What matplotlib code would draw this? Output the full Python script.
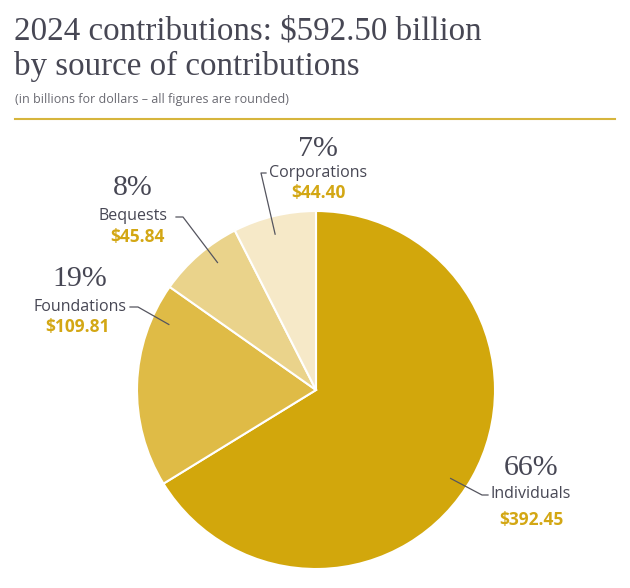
import matplotlib.pyplot as plt
import numpy as np

W, H = 630, 588

sources = ["Individuals", "Foundations", "Bequests", "Corporations"]
amounts = [392.45, 109.81, 45.84, 44.40]
pct_labels = ["66%", "19%", "8%", "7%"]
value_labels = ["$392.45", "$109.81", "$45.84", "$44.40"]
colors = ["#D2A70C", "#DFBB46", "#EAD38B", "#F6E9C8"]

DARK = "#474754"
GOLD = "#D3A714"
SERIF = ["Liberation Serif", "DejaVu Serif"]
SANS = ["Open Sans", "DejaVu Sans"]

# label layout in pixels: (x_center, y_pct, y_name, y_value, x_value)
label_pos = [
    (531, 468, 494, 520, 531),
    (80, 279, 307, 327, 78),
    (133, 188, 216, 237, 137),
    (318, 149, 173, 193, 318),
]
# leader lines: angle of inner end (deg), elbow point, end point (pixels)
leaders = [
    (-33.3, (482, 495), (488, 495)),
    (156.0, (138, 307), (130, 307)),
    (127.7, (183, 217), (176, 217)),
    (104.7, (261, 173), (266, 173)),
]


def fx(px):
    return px / W


def fy(py):
    return 1 - py / H


fig = plt.figure(figsize=(W / 100, H / 100), dpi=100)
fig.patch.set_facecolor("white")

cx, cy, r = 316, 390, 179
ax = fig.add_axes([fx(cx - r), fy(cy + r), 2 * r / W, 2 * r / H])
ax.pie(amounts, colors=colors, startangle=90, counterclock=False, radius=1,
       wedgeprops=dict(edgecolor="white", linewidth=1.5))
ax.set_xlim(-1, 1)
ax.set_ylim(-1, 1)
ax.set_aspect("equal")
ax.axis("off")

# title block
fig.text(fx(14), fy(31), "2024 contributions: $592.50 billion", fontsize=23.8,
         family=SERIF, color=DARK, va="center", ha="left")
fig.text(fx(14), fy(66), "by source of contributions", fontsize=23.8,
         family=SERIF, color=DARK, va="center", ha="left")
fig.text(fx(15), fy(100), "(in billions for dollars \u2013 all figures are rounded)",
         fontsize=9, family=SANS, color="#6a6a72", va="center", ha="left")
fig.add_artist(plt.Line2D([fx(15), fx(615)], [fy(119), fy(119)],
                          color="#D6B53C", linewidth=1.5))

for i in range(len(sources)):
    xc, yp, yn, yv, xv = label_pos[i]
    fig.text(fx(xc), fy(yp), pct_labels[i], fontsize=21.5, family=SERIF,
             color=DARK, ha="center", va="center")
    fig.text(fx(xc), fy(yn), sources[i], fontsize=11.5, family=SANS,
             color=DARK, ha="center", va="center")
    fig.text(fx(xv), fy(yv), value_labels[i], fontsize=12.5, family=SANS,
             color=GOLD, fontweight="bold", ha="center", va="center")

    ang, elbow, end = leaders[i]
    a = np.deg2rad(ang)
    x0 = cx + 0.9 * r * np.cos(a)
    y0 = cy - 0.9 * r * np.sin(a)
    xs = [fx(x0), fx(elbow[0]), fx(end[0])]
    ys = [fy(y0), fy(elbow[1]), fy(end[1])]
    fig.add_artist(plt.Line2D(xs, ys, color="#55555f", linewidth=0.9))

fig.savefig("out.png", dpi=100)
